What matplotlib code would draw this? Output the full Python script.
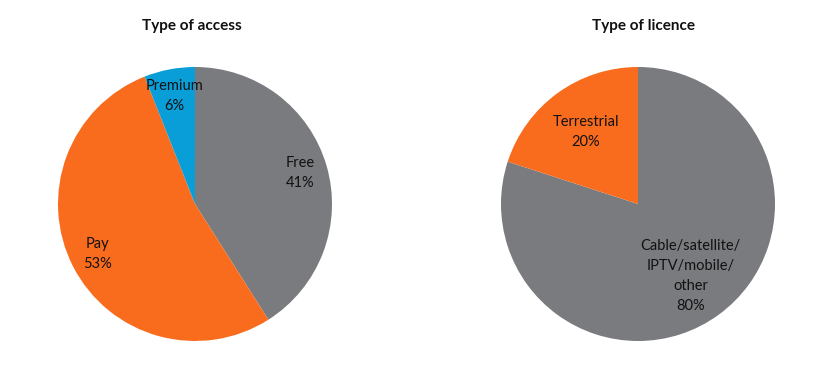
import matplotlib.pyplot as plt

plt.rcParams['font.family'] = ['Lato', 'DejaVu Sans']

access_labels = ['Free', 'Pay', 'Premium']
access_values = [41, 53, 6]
licence_labels = ['Cable/satellite/\nIPTV/mobile/\nother', 'Terrestrial']
licence_values = [80, 20]

grey = '#7a7b7e'
orange = '#f96c1e'
blue = '#0a9ed8'

fig = plt.figure(figsize=(8.3, 3.91), dpi=100)

W, H = 830, 391
R = 137


def pie_axes(cx, cy):
    return fig.add_axes([(cx - R) / W, (H - cy - R) / H, 2 * R / W, 2 * R / H])


def make_fmt(labels, values):
    def fmt(pct):
        i = min(range(len(values)), key=lambda k: abs(values[k] - pct))
        return '%s\n%d%%' % (labels[i], values[i])
    return fmt


ax1 = pie_axes(195, 204)
ax1.pie(access_values, colors=[grey, orange, blue], startangle=90, counterclock=False,
        autopct=make_fmt(access_labels, access_values), pctdistance=0.8,
        textprops=dict(fontsize=10.5, color='#111111', linespacing=1.55))
ax1.set_xlim(-1, 1)
ax1.set_ylim(-1, 1)

ax2 = pie_axes(638, 204)
ax2.pie(licence_values, colors=[grey, orange], startangle=90, counterclock=False,
        autopct=make_fmt(licence_labels, licence_values), pctdistance=0.65,
        textprops=dict(fontsize=10.5, color='#111111', linespacing=1.55))
ax2.set_xlim(-1, 1)
ax2.set_ylim(-1, 1)

fig.text(192 / W, 1 - 26 / H, 'Type of access', ha='center', va='center',
         fontsize=11, fontweight='bold', color='#111111')
fig.text(643 / W, 1 - 26 / H, 'Type of licence', ha='center', va='center',
         fontsize=11, fontweight='bold', color='#111111')

fig.savefig('out.png', dpi=100)
